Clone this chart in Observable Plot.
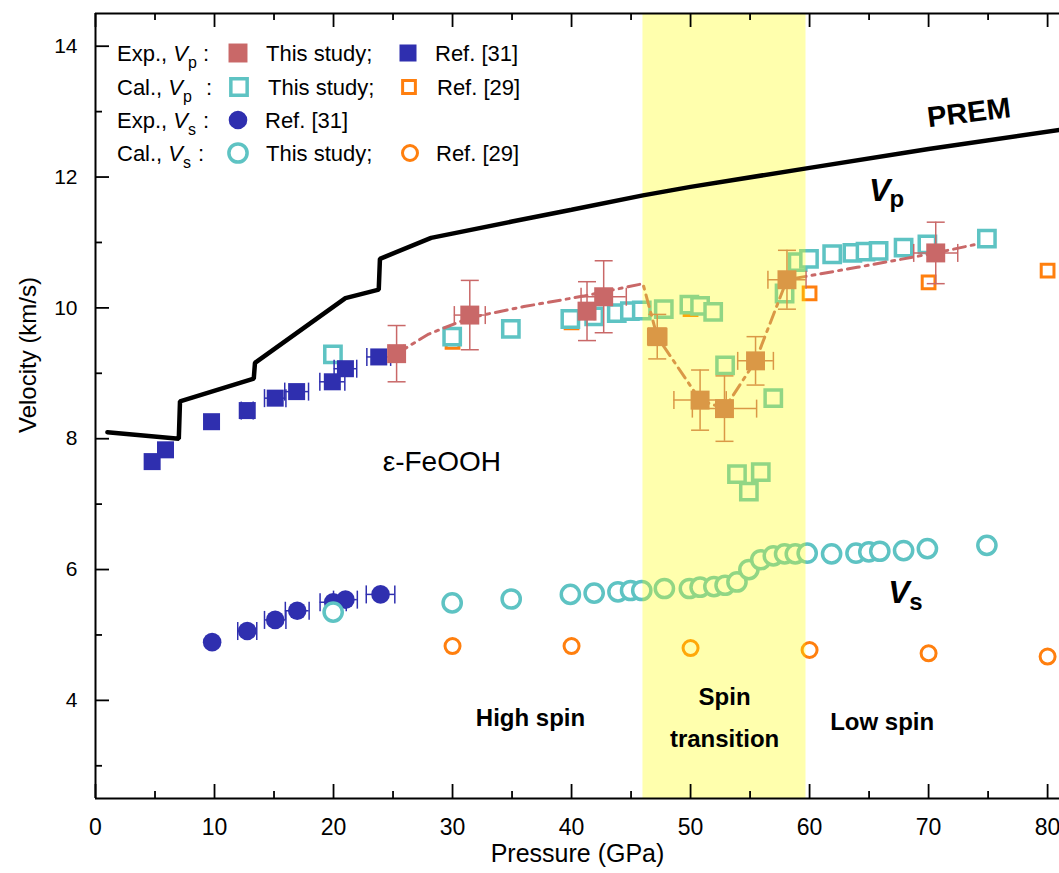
<!DOCTYPE html>
<html><head><meta charset="utf-8">
<script src="https://cdn.jsdelivr.net/npm/d3@7"></script>
<script src="https://cdn.jsdelivr.net/npm/@observablehq/plot@0.6"></script>
<style>body{margin:0;background:#fff;} svg{display:block}</style>
</head><body><div id="chart"></div>
<script>
// ---------- data ----------
const premP = [1.0, 7.0, 7.1, 13.3, 13.4, 21.0, 23.8, 23.9, 28.2, 35, 40, 46, 50, 60, 70, 81];
const premV = [8.10, 8.00, 8.57, 8.92, 9.16, 10.15, 10.28, 10.75, 11.07, 11.32, 11.50, 11.72, 11.85, 12.14, 12.43, 12.72];

// Exp. Vp, this study
const expVpP    = [25.3, 31.45, 41.3, 42.7, 47.2, 50.8, 52.85, 55.46, 58.1, 70.6];
const expVpV    = [9.30, 9.89, 9.95, 10.17, 9.56, 8.59, 8.46, 9.19, 10.43, 10.84];
const expVpXErr = [0.6, 1.3, 0.6, 1.9, 0.8, 2.2, 2.7, 1.5, 1.6, 1.85];
const expVpYErr = [0.43, 0.53, 0.45, 0.55, 0.34, 0.46, 0.50, 0.37, 0.45, 0.47];
// guide line (dash-dot) through the experimental Vp
const fitP = [25.3, 28.0, 31.45, 36.0, 41.0, 46.0, 47.2, 50.8, 52.85, 55.46, 58.1, 64.0, 70.6, 74.2];
const fitV = [9.30, 9.60, 9.85, 10.02, 10.18, 10.37, 9.56, 8.59, 8.46, 9.19, 10.43, 10.62, 10.84, 10.98];

// Exp. Vp, Ref. [31]
const ref31VpP    = [4.76, 5.88, 9.75, 12.75, 15.1, 16.9, 19.9, 21.0, 23.8];
const ref31VpV    = [7.65, 7.83, 8.26, 8.43, 8.62, 8.72, 8.87, 9.07, 9.25];
const ref31VpXErr = [0, 0, 0, 0.5, 0.9, 1.0, 1.05, 0.95, 1.0];

// Cal. Vp, this study
const calVpP = [19.95, 29.97, 34.9, 39.9, 41.9, 43.8, 44.9, 45.9, 47.75, 49.9, 50.8, 51.9,
                52.9, 53.9, 54.9, 55.9, 56.95, 57.9, 59.0, 59.95, 61.9, 63.6, 64.7, 65.8, 67.9, 69.9, 74.9];
const calVpV = [9.29, 9.56, 9.68, 9.83, 9.87, 9.92, 9.95, 9.96, 9.98, 10.05, 10.03, 9.94,
                9.12, 7.46, 7.19, 7.49, 8.62, 10.22, 10.70, 10.75, 10.82, 10.84, 10.86, 10.87, 10.92, 10.97, 11.06];

// Cal. Vp, Ref. [29]
const ref29VpP = [30, 40, 50, 60, 70, 80];
const ref29VpV = [9.48, 9.78, 9.98, 10.22, 10.39, 10.57];

// Exp. Vs, Ref. [31]
const ref31VsP    = [9.8, 12.75, 15.1, 16.95, 19.97, 21.0, 23.95];
const ref31VsV    = [4.89, 5.06, 5.23, 5.37, 5.50, 5.54, 5.62];
const ref31VsXErr = [0, 0.8, 0.9, 1.0, 1.1, 1.0, 1.2];

// Cal. Vs, this study
const calVsP = [19.97, 29.97, 34.93, 39.9, 41.9, 43.9, 44.96, 45.9, 47.8, 49.9, 50.8, 51.96, 52.9, 53.9,
                54.9, 55.9, 56.95, 57.9, 58.8, 59.8, 61.85, 63.9, 64.98, 65.9, 67.9, 69.9, 74.9];
const calVsV = [5.35, 5.49, 5.55, 5.62, 5.64, 5.66, 5.68, 5.68, 5.71, 5.71, 5.73, 5.74, 5.76, 5.81,
                6.00, 6.15, 6.21, 6.24, 6.24, 6.25, 6.24, 6.25, 6.27, 6.28, 6.29, 6.32, 6.37];

// Cal. Vs, Ref. [29]
const ref29VsP = [30, 40, 50, 60, 70, 80];
const ref29VsV = [4.83, 4.83, 4.80, 4.77, 4.72, 4.67];

const spinBand = [{x1: 46, x2: 59.7}];

const xMajor = [0, 10, 20, 30, 40, 50, 60, 70, 80];
const xMinor = [5, 15, 25, 35, 45, 55, 65, 75];
const yMajor = [4, 6, 8, 10, 12, 14];
const yMinor = [3, 5, 7, 9, 11, 13];

const notes = [
  {p: 36.55, v: 3.72, t: "High spin"},
  {p: 52.86, v: 4.04, t: "Spin"},
  {p: 52.86, v: 3.40, t: "transition"},
  {p: 66.1, v: 3.67, t: "Low spin"}
];

// ---------- style ----------
const RED = "#C96868", BLUE = "#2F2FAF", TEAL = "#5EC3C3", ORANGE = "#FF7F0E";
const FONT = "Liberation Sans, Arial, sans-serif";

const zip = (P, V, extra = {}) => P.map((p, i) => {
  const o = {p, v: V[i]};
  for (const k in extra) o[k] = extra[k][i];
  return o;
});
const expVp = zip(expVpP, expVpV, {xe: expVpXErr, ye: expVpYErr});
const ref31Vp = zip(ref31VpP, ref31VpV, {xe: ref31VpXErr});
const calVp = zip(calVpP, calVpV);
const ref29Vp = zip(ref29VpP, ref29VpV);
const ref31Vs = zip(ref31VsP, ref31VsV, {xe: ref31VsXErr});
const calVs = zip(calVsP, calVsV);
const ref29Vs = zip(ref29VsP, ref29VsV);
const fit = zip(fitP, fitV);
const prem = zip(premP, premV);

const vBar = {draw(ctx, size) { const h = Math.sqrt(size / Math.PI); ctx.moveTo(0, -h); ctx.lineTo(0, h); }};
const hBar = {draw(ctx, size) { const h = Math.sqrt(size / Math.PI); ctx.moveTo(-h, 0); ctx.lineTo(h, 0); }};

const plotH = 873 - 13 - 75, plotW = 1059 - 95;

function xErrMarks(data, color) {
  const d = data.filter(r => r.xe > 0);
  return [
    Plot.ruleY(d, {y: "v", x1: r => r.p - r.xe, x2: r => r.p + r.xe, stroke: color, strokeWidth: 1.5}),
    Plot.dot(d, {x: r => r.p - r.xe, y: "v", symbol: vBar, r: 9, stroke: color, strokeWidth: 1.5, fill: "none"}),
    Plot.dot(d, {x: r => r.p + r.xe, y: "v", symbol: vBar, r: 9, stroke: color, strokeWidth: 1.5, fill: "none"})
  ];
}

const chart = Plot.plot({
  width: 1059, height: 873,
  marginLeft: 95, marginRight: 0, marginTop: 13, marginBottom: 75,
  x: {domain: [0, 81]},
  y: {domain: [2.5, 14.5]},
  style: {fontFamily: FONT, fontSize: "20px", background: "white", color: "black", overflow: "visible"},
  marks: [
    // Vs
    ...xErrMarks(ref31Vs, BLUE),
    Plot.dot(ref31Vs, {x: "p", y: "v", r: 9.3, fill: BLUE, stroke: "none"}),
    Plot.dot(ref29Vs, {x: "p", y: "v", r: 7.5, fill: "white", stroke: ORANGE, strokeWidth: 3}),
    Plot.dot(calVs, {x: "p", y: "v", r: 9.1, fill: "white", stroke: TEAL, strokeWidth: 3.5}),
    // Vp
    Plot.dot(ref29Vp, {x: "p", y: "v", symbol: "square", r: 7.2, fill: "white", stroke: ORANGE, strokeWidth: 3}),
    Plot.dot(calVp, {x: "p", y: "v", symbol: "square", r: 9.2, fill: "white", stroke: TEAL, strokeWidth: 3.5}),
    ...xErrMarks(ref31Vp, BLUE),
    Plot.dot(ref31Vp, {x: "p", y: "v", symbol: "square", r: 9.6, fill: BLUE, stroke: "none"}),
    Plot.line(fit, {x: "p", y: "v", stroke: RED, strokeWidth: 3, strokeDasharray: "12 6 3 6", curve: "linear"}),
    ...xErrMarks(expVp, RED),
    Plot.ruleX(expVp, {x: "p", y1: r => r.v - r.ye, y2: r => r.v + r.ye, stroke: RED, strokeWidth: 1.5}),
    Plot.dot(expVp, {x: "p", y: r => r.v + r.ye, symbol: hBar, r: 9, stroke: RED, strokeWidth: 1.5, fill: "none"}),
    Plot.dot(expVp, {x: "p", y: r => r.v - r.ye, symbol: hBar, r: 9, stroke: RED, strokeWidth: 1.5, fill: "none"}),
    Plot.dot(expVp, {x: "p", y: "v", symbol: "square", r: 10.7, fill: RED, stroke: "none"}),
    // spin transition band (translucent, on top of points)
    Plot.rectX(spinBand, {x1: "x1", x2: "x2", fill: "#FFFF00", fillOpacity: 0.32}),
    // PREM
    Plot.line(prem, {x: "p", y: "v", stroke: "black", strokeWidth: 4.5, curve: "linear", strokeLinejoin: "miter"}),
    // annotations
    Plot.text(["PREM"], {x: 73.4, y: 12.98, text: d => d, fontSize: 29, fontWeight: "bold", rotate: -7}),
    Plot.text(["V"], {x: 65.9, y: 11.79, text: d => d, fontSize: 32, fontWeight: "bold", fontStyle: "italic"}),
    Plot.text(["p"], {x: 65.9, y: 11.79, text: d => d, fontSize: 24, fontWeight: "bold", dx: 17, dy: 9}),
    Plot.text(["V"], {x: 67.5, y: 5.65, text: d => d, fontSize: 32, fontWeight: "bold", fontStyle: "italic"}),
    Plot.text(["s"], {x: 67.5, y: 5.65, text: d => d, fontSize: 24, fontWeight: "bold", dx: 17, dy: 10}),
    Plot.text(["ε-FeOOH"], {x: 29.1, y: 7.65, text: d => d, fontSize: 28}),
    Plot.text(notes, {x: "p", y: "v", text: "t", fontSize: 24, fontWeight: "bold"}),
    // frame
    Plot.ruleX([0], {strokeWidth: 2}),
    Plot.ruleY([2.5], {strokeWidth: 2}),
    Plot.ruleY([14.5], {strokeWidth: 2}),
    // inward ticks
    Plot.tickX(xMajor, {x: d => d, insetTop: plotH - 14, strokeWidth: 1.8}),
    Plot.tickX(xMinor, {x: d => d, insetTop: plotH - 7, strokeWidth: 1.8}),
    Plot.tickX(xMajor, {x: d => d, insetBottom: plotH - 14, strokeWidth: 1.8}),
    Plot.tickX(xMinor, {x: d => d, insetBottom: plotH - 7, strokeWidth: 1.8}),
    Plot.tickY(yMajor, {y: d => d, insetRight: plotW - 14, strokeWidth: 1.8}),
    Plot.tickY(yMinor, {y: d => d, insetRight: plotW - 7, strokeWidth: 1.8}),
    Plot.axisX({ticks: xMajor, tickSize: 0, tickPadding: 20, fontSize: 23, label: null, tickFormat: d => String(d)}),
    Plot.axisY({ticks: yMajor, tickSize: 0, tickPadding: 18, fontSize: 21, label: null, tickFormat: d => String(d)}),
    Plot.text(["Pressure (GPa)"], {frameAnchor: "bottom", dy: 63, text: d => d, fontSize: 25}),
    Plot.text(["Velocity (km/s)"], {frameAnchor: "left", dx: -67, dy: 27, rotate: -90, text: d => d, fontSize: 24})
  ]
});
document.getElementById("chart").appendChild(chart);

// ---------- legend ----------
const svg = d3.select(chart);
const lg = svg.append("g").attr("font-family", FONT).attr("font-size", 22)
  .attr("fill", "black").attr("text-anchor", "start");
const rows = [
  {y: 53, pre: "Exp., ", sub: "p", items: [
    {x: 238, shape: "square", fill: RED, r: 10.7},
    {tx: 266, text: "This study;"},
    {x: 408, shape: "square", fill: BLUE, r: 9.6},
    {tx: 435, text: "Ref. [31]"}]},
  {y: 87, pre: "Cal., ", sub: "p", items: [
    {x: 239, shape: "square", stroke: TEAL, r: 9.2, sw: 3.5},
    {tx: 268, text: "This study;"},
    {x: 409, shape: "square", stroke: ORANGE, r: 7.2, sw: 3},
    {tx: 437, text: "Ref. [29]"}]},
  {y: 120, pre: "Exp., ", sub: "s", items: [
    {x: 238, shape: "circle", fill: BLUE, r: 9.3},
    {tx: 265, text: "Ref. [31]"}]},
  {y: 153, pre: "Cal., ", sub: "s", items: [
    {x: 238, shape: "circle", stroke: TEAL, r: 9.1, sw: 3.5},
    {tx: 266, text: "This study;"},
    {x: 410, shape: "circle", stroke: ORANGE, r: 7.5, sw: 3},
    {tx: 436, text: "Ref. [29]"}]}
];
const colonX = [203, 206, 203, 198];
rows.forEach((row, ri) => {
  const t = lg.append("text").attr("x", 117).attr("y", row.y + 8);
  t.append("tspan").text(row.pre);
  t.append("tspan").attr("font-style", "italic").text("V");
  t.append("tspan").attr("font-size", 16).attr("dy", 7).text(row.sub);
  t.append("tspan").attr("x", colonX[ri]).attr("dy", -7).text(":");
  for (const it of row.items) {
    if (it.text) {
      lg.append("text").attr("x", it.tx).attr("y", row.y + 8).text(it.text);
    } else {
      const type = it.shape === "square" ? d3.symbolSquare : d3.symbolCircle;
      lg.append("path")
        .attr("transform", `translate(${it.x},${row.y})`)
        .attr("d", d3.symbol(type, Math.PI * it.r * it.r)())
        .attr("fill", it.fill || "white")
        .attr("stroke", it.stroke || "none")
        .attr("stroke-width", it.sw || 0);
    }
  }
});
</script>
</body></html>
